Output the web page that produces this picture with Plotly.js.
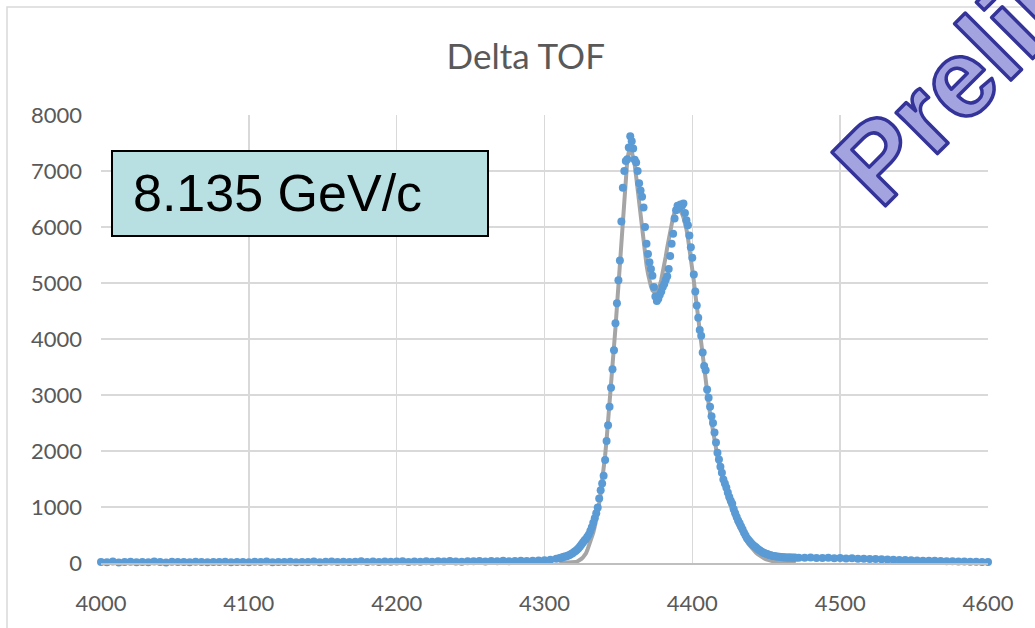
<!DOCTYPE html>
<html><head><meta charset="utf-8">
<script src="https://cdn.plot.ly/plotly-3.0.1.min.js"></script>
<style>
html,body{margin:0;padding:0;background:#fff;}
#chart{width:1035px;height:628px;}
.annotation[data-index="1"] .annotation-text{stroke:#333399;stroke-width:3.5px;stroke-linejoin:round;}
</style></head><body><div id="chart"></div>
<script>
// ---- Data (counts per TOF bin) ----
// Segment A: 4000..4308, bin step 4
const segAStart = 4000, segAStep = 4;
const countsA = [
  20, 15, 25, 10, 18, 22, 12, 20, 15, 25, 18, 10, 22, 16, 20, 12, 24, 18, 14, 20, 16, 22, 12, 18, 20,
  15, 22, 18, 25, 12, 20, 16, 24, 14, 20, 18, 26, 15, 22, 28, 18, 24, 16, 22, 30, 20, 25, 18, 28, 22,
  25, 30, 20, 28, 24, 32, 22, 30, 26, 34, 28, 24, 32, 30, 36, 28, 34, 30, 38, 32, 36, 40, 35, 42, 45,
  50, 60, 75
];
// Segment B: 4310..4470, bin step 1 (peak region)
const segBStart = 4310, segBStep = 1;
const countsB = [
  85, 95, 100, 110, 115, 120, 135, 145, 160, 175,
  195, 215, 235, 265, 295, 330, 365, 400, 430, 470,
  510, 570, 640, 720, 800, 890, 990, 1150, 1300, 1420,
  1560, 1840, 2180, 2460, 2790, 3130, 3460, 3800, 4280, 4640,
  5050, 5400, 6100, 6700, 7000, 7180, 7210, 7420, 7620, 7530,
  7400, 7200, 7150, 7000, 6780, 6650, 6540, 6350, 6000, 5700,
  5520, 5370, 5250, 5130, 4930, 4760, 4680, 4720, 4790, 4850,
  4930, 4980, 5060, 5120, 5250, 5480, 5700, 5880, 6150, 6300,
  6380, 6330, 6400, 6380, 6420, 6250, 6120, 6030, 5850, 5640,
  5450, 5150, 4850, 4600, 4380, 4160, 4060, 3760, 3520, 3440,
  3100, 2950, 2790, 2620, 2500, 2330, 2150, 1970, 1850, 1720,
  1610, 1490, 1420, 1350, 1260, 1180, 1110, 1060, 960, 890,
  820, 760, 710, 650, 600, 540, 490, 440, 410, 380,
  350, 320, 300, 280, 255, 235, 220, 200, 185, 175,
  165, 155, 145, 140, 130, 125, 120, 118, 112, 110,
  108, 104, 102, 100, 98, 97, 100, 96, 94, 97,
  92
];
// Fit curve over segment B
const fitB = [
  0, 0, 0, 0, 0, 0, 0, 0, 2, 5,
  10, 16, 25, 38, 55, 75, 100, 130, 170, 230,
  300, 370, 450, 540, 650, 770, 910, 1070, 1250, 1440,
  1660, 1920, 2200, 2500, 2820, 3150, 3480, 3830, 4200, 4580,
  4980, 5400, 5830, 6250, 6630, 6960, 7200, 7340, 7380, 7350,
  7260, 7110, 6900, 6660, 6410, 6160, 5920, 5700, 5500, 5320,
  5170, 5040, 4940, 4870, 4830, 4820, 4840, 4890, 4960, 5060,
  5180, 5320, 5470, 5630, 5790, 5940, 6070, 6180, 6260, 6310,
  6330, 6320, 6290, 6240, 6170, 6080, 5960, 5810, 5640, 5450,
  5250, 5040, 4810, 4580, 4350, 4120, 3890, 3670, 3450, 3240,
  3040, 2850, 2670, 2500, 2340, 2190, 2040, 1900, 1770, 1650,
  1540, 1440, 1340, 1250, 1160, 1080, 1000, 930, 860, 790,
  730, 670, 615, 560, 510, 465, 420, 380, 340, 305,
  270, 240, 212, 186, 162, 140, 120, 103, 88, 75,
  63, 53, 45, 38, 32, 27, 22, 18, 15, 12,
  10, 8, 7, 6, 5, 4, 3, 3, 2, 2,
  1
];
// Segment C: 4472..4600, bin step 4
const segCStart = 4472, segCStep = 4;
const countsC = [
  95, 92, 98, 90, 88, 92, 85, 88, 80, 84,
  78, 75, 72, 70, 66, 62, 60, 55, 52, 50,
  46, 42, 40, 38, 35, 32, 30, 28, 26, 24,
  22, 20, 18
];
const xTickVals = [4000, 4100, 4200, 4300, 4400, 4500, 4600];
const yTickVals = [0, 1000, 2000, 3000, 4000, 5000, 6000, 7000, 8000];
const chartTitle = 'Delta TOF';
const momentumLabel = '8.135 GeV/c';
const stampText = 'Preliminary';

// ---- Build bin positions ----
function binPositions(start, step, n){ return Array.from({length:n}, (_, i) => start + i*step); }
const xA = binPositions(segAStart, segAStep, countsA.length);
const xB = binPositions(segBStart, segBStep, countsB.length);
const xC = binPositions(segCStart, segCStep, countsC.length);
const xAll = xA.concat(xB, xC);
const yAll = countsA.concat(countsB, countsC);

const traces = [
  { type:'scatter', mode:'lines', x:xB, y:fitB, line:{color:'#a5a5a5', width:4}, hoverinfo:'skip', cliponaxis:false },
  { type:'scatter', mode:'markers', x:xAll, y:yAll, marker:{color:'#5b9bd5', size:8}, cliponaxis:false }
];

const W = 1035, H = 628, ML = 101, MR = 47, MT = 115, MB = 65;
const PW = W - ML - MR, PH = H - MT - MB;
const px = v => (v - ML) / PW;          // pixel x -> paper
const py = v => (H - MB - v) / PH;      // pixel y -> paper

const tickFont = {family:'Lato, "Open Sans", sans-serif', size:22, color:'#595959'};
const layout = {
  width:W, height:H,
  margin:{l:ML, r:MR, t:MT, b:MB, pad:0},
  paper_bgcolor:'#ffffff', plot_bgcolor:'#ffffff',
  showlegend:false,
  title:{text:chartTitle, font:{family:'Lato, "Open Sans", sans-serif', size:35, color:'#595959'},
         xref:'container', x:0.508, xanchor:'center', yref:'container', y:0.909, yanchor:'middle'},
  xaxis:{range:[4000,4600], tickmode:'array', tickvals:xTickVals, ticktext:xTickVals.map(String),
         showgrid:true, gridcolor:'#d9d9d9', gridwidth:1.5, zeroline:false,
         showline:true, linecolor:'#bfbfbf', linewidth:1.5, ticks:'', ticklabelstandoff:20, tickfont:tickFont},
  yaxis:{range:[0,8000], tickmode:'array', tickvals:yTickVals, ticktext:yTickVals.map(String),
         showgrid:true, gridcolor:'#d9d9d9', gridwidth:1.5, zeroline:false,
         showline:false, ticks:'', ticklabelstandoff:18, tickfont:tickFont},
  shapes:[
    {type:'rect', xref:'paper', yref:'paper', x0:px(7), x1:px(1100), y0:py(700), y1:py(7),
     line:{color:'#d9d9d9', width:1.5}, fillcolor:'rgba(0,0,0,0)', layer:'below'},
    {type:'rect', xref:'paper', yref:'paper', x0:px(112), x1:px(488), y0:py(236), y1:py(151),
     line:{color:'#000000', width:2}, fillcolor:'#b8dfe2', layer:'above'}
  ],
  annotations:[
    {text:momentumLabel, xref:'paper', yref:'paper', x:px(131), y:py(193), xanchor:'left', yanchor:'middle',
     showarrow:false, font:{family:'"Liberation Sans", Arial, sans-serif', size:52, color:'#000000'}},
    {text:stampText, xref:'paper', yref:'paper', x:px(1064), y:py(-28), xanchor:'center', yanchor:'middle',
     showarrow:false, textangle:-45,
     font:{family:'"Liberation Sans", Arial, sans-serif', size:110, weight:700, color:'#a3a3e0'}}
  ]
};
Plotly.newPlot('chart', traces, layout, {displayModeBar:false, staticPlot:true});
</script></body></html>
